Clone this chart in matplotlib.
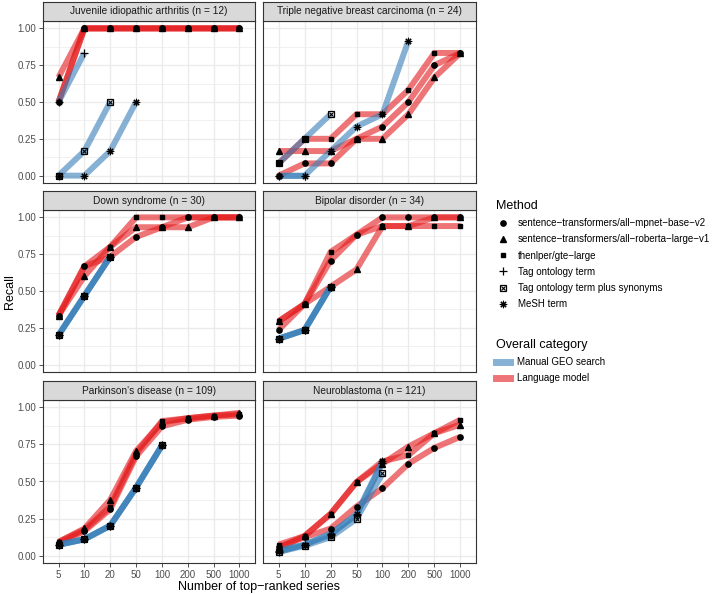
import matplotlib
matplotlib.use('Agg')
import matplotlib.pyplot as plt
import matplotlib.ticker as mticker
from matplotlib.lines import Line2D

plt.rcParams['font.family'] = ['Liberation Sans', 'DejaVu Sans']

# x categories (discrete)
topk = ['5', '10', '20', '50', '100', '200', '500', '1000']

panel_titles = ['Juvenile idiopathic arthritis (n = 12)',
                'Triple negative breast carcinoma (n = 24)',
                'Down syndrome (n = 30)',
                'Bipolar disorder (n = 34)',
                "Parkinson's disease (n = 109)",
                'Neuroblastoma (n = 121)']

method_names = ['sentence\u2212transformers/all\u2212mpnet\u2212base\u2212v2',
                'sentence\u2212transformers/all\u2212roberta\u2212large\u2212v1',
                'thenlper/gte\u2212large',
                'Tag ontology term',
                'Tag ontology term plus synonyms',
                'MeSH term']
method_group = ['Language model', 'Language model', 'Language model',
                'Manual GEO search', 'Manual GEO search', 'Manual GEO search']

# recall per method, one list per panel (manual searches stop early)
jia = [[0.5, 1, 1, 1, 1, 1, 1, 1],
       [0.667, 1, 1, 1, 1, 1, 1, 1],
       [0.5, 1, 1, 1, 1, 1, 1, 1],
       [0.5, 0.833],
       [0.0, 0.167, 0.5],
       [0.0, 0.0, 0.167, 0.5]]
tnbc = [[0.0, 0.083, 0.083, 0.25, 0.333, 0.5, 0.75, 0.833],
        [0.167, 0.167, 0.167, 0.25, 0.25, 0.417, 0.667, 0.833],
        [0.083, 0.25, 0.25, 0.417, 0.417, 0.583, 0.833, 0.833],
        [0.0, 0.0],
        [0.083, 0.25, 0.417],
        [0.0, 0.0, 0.167, 0.333, 0.417, 0.917]]
down = [[0.333, 0.667, 0.733, 0.867, 0.933, 1.0, 1.0, 1.0],
        [0.333, 0.6, 0.8, 0.933, 0.933, 0.933, 1.0, 1.0],
        [0.333, 0.667, 0.8, 1.0, 1.0, 1.0, 1.0, 1.0],
        [0.2, 0.467, 0.733],
        [0.2, 0.467, 0.733],
        [0.2, 0.467, 0.733]]
bipolar = [[0.235, 0.412, 0.706, 0.882, 1.0, 1.0, 1.0, 1.0],
           [0.294, 0.412, 0.529, 0.647, 0.941, 0.941, 1.0, 1.0],
           [0.294, 0.412, 0.765, 0.882, 0.941, 0.941, 0.941, 0.941],
           [0.176, 0.235, 0.529],
           [0.176, 0.235, 0.529],
           [0.176, 0.235, 0.529]]
parkinson = [[0.083, 0.165, 0.312, 0.670, 0.872, 0.917, 0.936, 0.945],
             [0.092, 0.183, 0.376, 0.706, 0.899, 0.927, 0.945, 0.963],
             [0.092, 0.174, 0.330, 0.688, 0.908, 0.927, 0.945, 0.954],
             [0.073, 0.110, 0.202, 0.459, 0.743],
             [0.073, 0.110, 0.202, 0.459, 0.743],
             [0.073, 0.110, 0.202, 0.459, 0.743]]
neuro = [[0.058, 0.124, 0.182, 0.331, 0.455, 0.620, 0.727, 0.802],
         [0.050, 0.132, 0.281, 0.496, 0.620, 0.736, 0.826, 0.884],
         [0.074, 0.132, 0.281, 0.496, 0.636, 0.678, 0.826, 0.917],
         [0.025, 0.074, 0.149, 0.273, 0.628],
         [0.025, 0.066, 0.124, 0.248, 0.554],
         [0.033, 0.074, 0.140, 0.281, 0.636]]
panel_data = [jia, tnbc, down, bipolar, parkinson, neuro]

group_colors = {'Manual GEO search': '#377EB8', 'Language model': '#E41A1C'}
ALPHA = 0.6
LW = 4.3
MS = 3.8


def draw_marker(ax, x, y, k, ms=MS, z=4):
    if k == 0:
        ax.plot(x, y, 'o', color='black', ms=ms, ls='none', zorder=z)
    elif k == 1:
        ax.plot(x, y, '^', color='black', ms=ms + 0.4, ls='none', zorder=z)
    elif k == 2:
        ax.plot(x, y, 's', color='black', ms=ms - 0.3, ls='none', zorder=z)
    elif k == 3:
        ax.plot(x, y, '+', color='black', ms=ms + 1.5, mew=0.9, ls='none', zorder=z)
    elif k == 4:
        ax.plot(x, y, 's', mfc='none', mec='black', ms=ms, mew=0.9, ls='none', zorder=z)
        ax.plot(x, y, 'x', color='black', ms=ms - 0.8, mew=0.8, ls='none', zorder=z)
    else:
        ax.plot(x, y, marker=(8, 2, 0), color='black', ms=ms + 1.5, mew=0.8, ls='none', zorder=z)


W, H = 720, 594
fig = plt.figure(figsize=(W / 100, H / 100), dpi=100)


def rect(x0, y0, x1, y1):
    return [x0 / W, 1 - y1 / H, (x1 - x0) / W, (y1 - y0) / H]


cols = [(43, 255), (263, 476)]
rows = [(21, 183), (210, 372), (400, 563)]
strip_h = 19

for i, (title, data) in enumerate(zip(panel_titles, panel_data)):
    r, c = divmod(i, 2)
    x0, x1 = cols[c]
    y0, y1 = rows[r]
    ax = fig.add_axes(rect(x0, y0, x1, y1))
    sax = fig.add_axes(rect(x0, y0 - strip_h, x1, y0))

    for k, vals in enumerate(data):
        xs = list(range(len(vals)))
        ax.plot(xs, vals, color=group_colors[method_group[k]], alpha=ALPHA,
                lw=LW, solid_capstyle='butt', solid_joinstyle='round', zorder=2)
    for k, vals in enumerate(data):
        draw_marker(ax, list(range(len(vals))), vals, k)

    ax.set_xlim(-0.6, 7.6)
    ax.set_ylim(-0.05, 1.05)
    ax.set_xticks(range(len(topk)))
    ax.set_xticklabels(topk)
    ax.set_yticks([0, 0.25, 0.5, 0.75, 1.0])
    ax.set_yticklabels(['0.00', '0.25', '0.50', '0.75', '1.00'])
    ax.yaxis.set_minor_locator(mticker.FixedLocator([0.125, 0.375, 0.625, 0.875]))
    ax.grid(which='major', color='#EBEBEB', lw=1.0)
    ax.grid(which='minor', axis='y', color='#EBEBEB', lw=0.5)
    ax.set_axisbelow(True)
    ax.tick_params(which='minor', length=0)
    ax.tick_params(which='major', length=2.7, width=0.6, color='#333333',
                   labelcolor='#4D4D4D', labelsize=7, pad=2)
    for s in ax.spines.values():
        s.set_color('#333333')
        s.set_linewidth(0.8)
    if c == 1:
        ax.tick_params(left=False, labelleft=False)
    if r < 2:
        ax.tick_params(bottom=False, labelbottom=False)

    sax.set_facecolor('#D9D9D9')
    sax.set_xticks([])
    sax.set_yticks([])
    for s in sax.spines.values():
        s.set_color('#333333')
        s.set_linewidth(0.8)
    sax.text(0.5, 0.5, title, ha='center', va='center', fontsize=7.3,
             color='#1A1A1A', transform=sax.transAxes)

fig.text(259.5 / W, 1 - 587 / H, 'Number of top\u2212ranked series', ha='center',
         va='center', fontsize=9)
fig.text(10 / W, 1 - 292 / H, 'Recall', ha='center', va='center', rotation=90,
         fontsize=9)

# legends
m_handles = [
    Line2D([], [], marker='o', color='black', ls='none', ms=MS),
    Line2D([], [], marker='^', color='black', ls='none', ms=MS + 0.4),
    Line2D([], [], marker='s', color='black', ls='none', ms=MS - 0.3),
    Line2D([], [], marker='+', color='black', ls='none', ms=MS + 1.5, mew=0.9),
    (Line2D([], [], marker='s', mfc='none', mec='black', ls='none', ms=MS, mew=0.9),
     Line2D([], [], marker='x', color='black', ls='none', ms=MS - 0.8, mew=0.8)),
    Line2D([], [], marker=(8, 2, 0), color='black', ls='none', ms=MS + 1.5, mew=0.8),
]
leg1 = fig.legend(m_handles, method_names, title='Method', loc='upper left',
                  bbox_to_anchor=(496 / W, 1 - 200 / H), frameon=False,
                  fontsize=7, title_fontsize=9, alignment='left',
                  handlelength=1.4, handletextpad=0.86, labelspacing=0.64,
                  borderpad=0, borderaxespad=0)

g_handles = [Line2D([], [], color=group_colors['Manual GEO search'], alpha=ALPHA, lw=5),
             Line2D([], [], color=group_colors['Language model'], alpha=ALPHA, lw=5)]
leg2 = fig.legend(g_handles, ['Manual GEO search', 'Language model'],
                  title='Overall category', loc='upper left',
                  bbox_to_anchor=(496 / W, 1 - 339 / H), frameon=False,
                  fontsize=7, title_fontsize=9, alignment='left',
                  handlelength=1.45, handletextpad=0.72, labelspacing=0.64,
                  borderpad=0, borderaxespad=0)

fig.savefig('out.png', dpi=100)
